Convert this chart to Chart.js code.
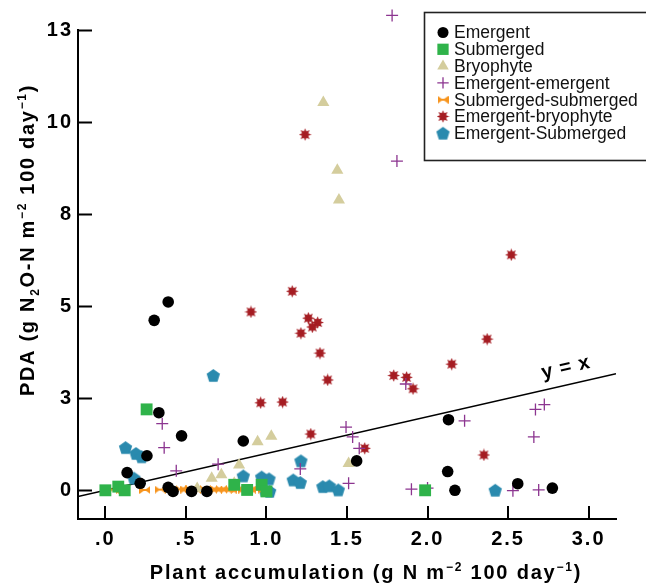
<!DOCTYPE html>
<html>
<head>
<meta charset="utf-8">
<script src="https://cdn.jsdelivr.net/npm/chart.js@4"></script>
<style>
  html, body { margin: 0; padding: 0; background: #fff; }
  canvas { display: block; }
</style>
</head>
<body>
<canvas id="pda" width="646" height="583"></canvas>
<script>
// data
let seriesNames = ['Emergent', 'Submerged', 'Bryophyte', 'Emergent-emergent',
                   'Submerged-submerged', 'Emergent-bryophyte', 'Emergent-Submerged'];

let emergentX = [0.135, 0.216, 0.258, 0.332, 0.473, 0.39, 0.42, 0.535, 0.63, 0.856, 0.303, 0.39, 1.56, 2.13, 2.125, 2.17, 2.56, 2.775];
let emergentY = [0.48, 0.19, 0.94, 2.11, 1.48, 0.08, -0.03, -0.03, -0.03, 1.34, 4.62, 5.12, 0.80, 1.92, 0.51, 0.0, 0.18, 0.06];

let submergedX = [0.256, 0.0, 0.08, 0.12, 0.80, 0.88, 0.97, 1.0, 1.985];
let submergedY = [2.2, 0.0, 0.1, 0.0, 0.15, 0.01, 0.15, -0.03, 0.0];

let bryoX = [1.353, 1.44, 1.45, 0.945, 1.03, 0.83, 0.66, 0.72, 0.80, 1.51, 0.57];
let bryoY = [10.54, 8.7, 7.89, 1.32, 1.47, 0.69, 0.33, 0.42, 0.19, 0.73, 0.05];

let emEmX = [1.78, 1.81, 0.353, 0.365, 0.44, 0.70, 1.21, 1.494, 1.535, 1.576, 1.51, 1.90, 2.0, 2.23, 1.865, 2.67, 2.725, 2.66, 2.53, 2.69];
let emEmY = [12.91, 8.95, 1.81, 1.16, 0.53, 0.71, 0.58, 1.72, 1.45, 1.14, 0.19, 0.03, 0.06, 1.89, 2.89, 2.2, 2.33, 1.45, -0.01, 0.01];

let subSubX = [0.0, 0.05, 0.10, 0.245, 0.34, 0.47, 0.50, 0.53, 0.56, 0.59, 0.62, 0.66, 0.69, 0.72, 0.75, 0.78, 0.82, 0.86, 0.90, 0.94, 0.98];
let subSubY = [0.02, 0.02, 0.02, 0.01, 0.02, 0.03, 0.02, 0.03, 0.02, 0.02, 0.03, 0.02, 0.02, 0.03, 0.02, 0.02, 0.03, 0.02, 0.02, 0.02, 0.02];

let emBryoX = [1.24, 0.904, 1.16, 1.26, 1.318, 1.285, 1.214, 1.332, 1.38, 0.964, 1.10, 1.275, 1.61, 2.37, 2.15, 1.79, 1.87, 1.91, 2.35, 2.52];
let emBryoY = [9.67, 4.85, 5.41, 4.68, 4.56, 4.44, 4.27, 3.73, 3.0, 2.38, 2.4, 1.53, 1.14, 4.11, 3.43, 3.12, 3.07, 2.76, 0.96, 6.4];

let emSubX = [0.67, 0.125, 0.19, 0.225, 0.177, 0.856, 0.97, 1.016, 0.99, 1.02, 1.214, 1.166, 1.21, 1.35, 1.39, 1.446, 2.42];
let emSubY = [3.12, 1.16, 1.0, 0.91, 0.33, 0.39, 0.36, 0.31, 0.01, -0.03, 0.8, 0.28, 0.21, 0.1, 0.12, 0.01, 0.0];

let oneToOne = [-0.17, 3.17];

let xTickValues = [0, 0.5, 1, 1.5, 2, 2.5, 3];
let xTickLabels = ['.0', '.5', '1.0', '1.5', '2.0', '2.5', '3.0'];
let yTickValues = [0, 2.5, 5, 7.5, 10, 12.5];
let yTickLabels = ['0', '3', '5', '8', '10', '13'];

const FONT = '"Liberation Sans", Arial, Helvetica, sans-serif';

function pts(xs, ys) {
    return xs.map((x, i) => ({x: x, y: ys[i]}));
}

// little canvases for the markers chart.js has no shape for
function icon(w, h, paint) {
    let c = document.createElement('canvas');
    c.width = w; c.height = h;
    paint(c.getContext('2d'), w, h);
    return c;
}
let pentagon = icon(15, 15, (g, w, h) => {
    g.fillStyle = '#2a8aae';
    g.beginPath();
    for (let k = 0; k < 5; k++) {
        let a = -Math.PI / 2 + k * 2 * Math.PI / 5;
        g.lineTo(7.5 + 7 * Math.cos(a), 8 + 7 * Math.sin(a));
    }
    g.closePath(); g.fill();
});
let burst = icon(13, 13, (g) => {
    g.fillStyle = '#a51c22';
    g.beginPath();
    for (let k = 0; k < 16; k++) {
        let a = -Math.PI / 2 + k * Math.PI / 8;
        let r = k % 2 ? 3.4 : 6.3;
        g.lineTo(6.5 + r * Math.cos(a), 6.5 + r * Math.sin(a));
    }
    g.closePath(); g.fill();
});
let bowtie = icon(11, 8, (g, w, h) => {
    g.fillStyle = '#f7941d';
    g.beginPath();
    g.moveTo(0, 0); g.lineTo(w / 2, h / 2); g.lineTo(0, h); g.closePath();
    g.moveTo(w, 0); g.lineTo(w / 2, h / 2); g.lineTo(w, h); g.closePath();
    g.fill();
    g.fillRect(0, h / 2 - 1, w, 2);
});

let markerSets = [
    {label: seriesNames[0], data: pts(emergentX, emergentY), pointStyle: 'circle', pointRadius: 5.8, backgroundColor: '#000', borderColor: '#000', borderWidth: 0},
    {label: seriesNames[1], data: pts(submergedX, submergedY), pointStyle: 'rect', pointRadius: 8.4, backgroundColor: '#2fb34a', borderColor: '#2fb34a', borderWidth: 0},
    {label: seriesNames[2], data: pts(bryoX, bryoY), pointStyle: 'triangle', pointRadius: 7, backgroundColor: '#d4cd9d', borderColor: '#d4cd9d', borderWidth: 0},
    {label: seriesNames[3], data: pts(emEmX, emEmY), pointStyle: 'cross', pointRadius: 6, backgroundColor: '#8c3590', borderColor: '#8c3590', borderWidth: 1.3},
    {label: seriesNames[4], data: pts(subSubX, subSubY), pointStyle: bowtie, pointRadius: 5},
    {label: seriesNames[5], data: pts(emBryoX, emBryoY), pointStyle: burst, pointRadius: 6},
    {label: seriesNames[6], data: pts(emSubX, emSubY), pointStyle: pentagon, pointRadius: 7}
];
markerSets.forEach(d => { d.clip = false; d.pointHoverRadius = d.pointRadius; });

let lineSet = {
    type: 'line',
    label: 'y = x',
    data: pts(oneToOne, oneToOne),
    borderColor: '#000',
    borderWidth: 1.6,
    pointRadius: 0,
    fill: false
};

// text with raised / lowered bits (kind 1 = sup, 2 = sub)
function drawRich(g, segs, cx, y, size, spacing) {
    let fontOf = k => 'bold ' + (k ? Math.round(size * 0.62) : size) + 'px ' + FONT;
    g.letterSpacing = spacing + 'px';
    let total = 0;
    segs.forEach(s => { g.font = fontOf(s[1]); total += g.measureText(s[0]).width; });
    let x = cx - total / 2;
    g.textAlign = 'left';
    g.textBaseline = 'alphabetic';
    segs.forEach(s => {
        g.font = fontOf(s[1]);
        let dy = s[1] === 1 ? -size * 0.42 : (s[1] === 2 ? size * 0.25 : 0);
        g.fillText(s[0], x, y + dy);
        x += g.measureText(s[0]).width;
    });
}

let decor = {
    id: 'decor',
    beforeDraw(chart) {
        chart.ctx.letterSpacing = '2px';
    },
    afterDraw(chart) {
        let g = chart.ctx;
        let xs = chart.scales.x, ys = chart.scales.y, a = chart.chartArea;
        g.save();
        g.fillStyle = '#000';
        g.strokeStyle = '#000';

        // left axis line, stopping at the top tick
        let yTop = Math.round(ys.getPixelForValue(yTickValues[yTickValues.length - 1]));
        g.lineWidth = 2;
        g.beginPath();
        g.moveTo(a.left, yTop - 1);
        g.lineTo(a.left, a.bottom + 1);
        g.stroke();

        // inward tick marks
        g.beginPath();
        yTickValues.forEach(v => {
            let p = Math.round(ys.getPixelForValue(v)) + 0.5;
            g.moveTo(a.left, p); g.lineTo(a.left + 14, p);
        });
        xTickValues.forEach(v => {
            let p = Math.round(xs.getPixelForValue(v));
            g.moveTo(p, a.bottom); g.lineTo(p, a.bottom - 13);
        });
        g.stroke();

        // axis titles
        drawRich(g, [['Plant accumulation (g N m', 0], ['\u22122', 1], [' 100 day', 0], ['\u22121', 1], [')', 0]],
                 366, 579, 20, 1.8);
        g.save();
        g.translate(34, 240);
        g.rotate(-Math.PI / 2);
        drawRich(g, [['PDA (g N', 0], ['2', 2], ['O-N m', 0], ['\u22122', 1], [' 100 day', 0], ['\u22121', 1], [')', 0]],
                 0, 0, 20, 1.7);
        g.restore();

        // y = x label along the line
        let x0 = xs.getPixelForValue(oneToOne[0]), y0 = ys.getPixelForValue(oneToOne[0]);
        let x1 = xs.getPixelForValue(oneToOne[1]), y1 = ys.getPixelForValue(oneToOne[1]);
        g.save();
        g.translate(xs.getPixelForValue(2.86), ys.getPixelForValue(3.33));
        g.rotate(Math.atan2(y1 - y0, x1 - x0));
        g.letterSpacing = '1px';
        g.font = 'bold 20px ' + FONT;
        g.textAlign = 'center';
        g.textBaseline = 'middle';
        g.fillText('y = x', 0, 0);
        g.restore();

        // legend box
        g.letterSpacing = '0px';
        g.lineWidth = 1.6;
        g.strokeStyle = '#222';
        g.strokeRect(424.5, 12.5, 240, 148);
        g.font = '17.5px ' + FONT;
        g.textAlign = 'left';
        g.textBaseline = 'middle';
        markerSets.forEach((d, i) => {
            let y = 32.5 + i * 16.8;
            let st = d.pointStyle;
            if (typeof st === 'object') {
                g.drawImage(st, 443 - st.width / 2, y - st.height / 2);
            } else if (Chart.helpers && Chart.helpers.drawPoint) {
                g.fillStyle = d.backgroundColor;
                g.strokeStyle = d.borderColor;
                g.lineWidth = d.borderWidth || 1;
                Chart.helpers.drawPoint(g, {pointStyle: st, radius: d.pointRadius * 0.95, borderWidth: d.borderWidth, rotation: 0}, 443, y);
            }
            g.fillStyle = '#111';
            g.fillText(d.label, 454, y + 1);
        });
        g.restore();
    }
};

new Chart(document.getElementById('pda'), {
    type: 'scatter',
    data: {datasets: markerSets.concat([lineSet])},
    options: {
        responsive: false,
        animation: false,
        layout: {padding: {left: 0, top: 5, right: 30, bottom: 0}},
        plugins: {legend: {display: false}, tooltip: {enabled: false}},
        scales: {
            x: {
                type: 'linear',
                min: -0.17,
                max: 3.17,
                afterBuildTicks: s => { s.ticks = xTickValues.map(v => ({value: v})); },
                afterFit: s => { s.height = 64; s.paddingLeft = 0; s.paddingRight = 0; },
                grid: {display: false, drawTicks: false},
                border: {display: true, color: '#000', width: 2},
                ticks: {
                    callback: (v, i) => xTickLabels[i],
                    color: '#000',
                    font: {family: FONT, size: 20, weight: 'bold'},
                    padding: 8,
                    maxRotation: 0,
                    autoSkip: false
                }
            },
            y: {
                type: 'linear',
                min: -0.78,
                max: 13.1,
                afterBuildTicks: s => { s.ticks = yTickValues.map(v => ({value: v})); },
                afterFit: s => { s.width = 78; s.paddingTop = 0; s.paddingBottom = 0; },
                grid: {display: false, drawTicks: false},
                border: {display: false},
                ticks: {
                    callback: (v, i) => yTickLabels[i],
                    color: '#000',
                    font: {family: FONT, size: 20, weight: 'bold'},
                    padding: 5,
                    autoSkip: false
                }
            }
        }
    },
    plugins: [decor]
});
</script>
</body>
</html>
